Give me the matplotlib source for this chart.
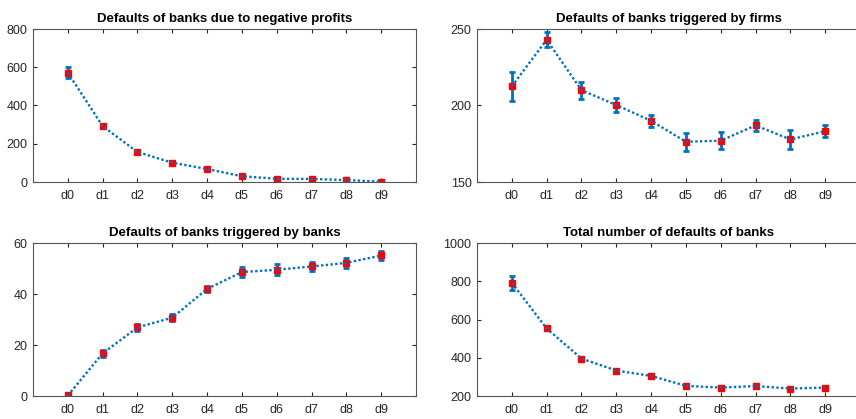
import numpy as np
import matplotlib.pyplot as plt

plt.rcParams['font.family'] = ['Liberation Sans', 'DejaVu Sans']

# 数据
labels = ['d0', 'd1', 'd2', 'd3', 'd4', 'd5', 'd6', 'd7', 'd8', 'd9']

profit_mean = [572, 292, 157, 101, 68, 30, 17, 16, 10, 2]
profit_err = [28, 9, 7, 5, 4, 3, 2, 2, 2, 1]

firms_mean = [212.5, 243, 210, 200.3, 190, 176.3, 177, 187, 177.8, 183.2]
firms_err = [9.5, 5, 5.5, 4.5, 4, 6, 5.5, 3.4, 6, 4]

banks_mean = [0.2, 16.7, 26.9, 30.7, 42, 48.6, 49.5, 50.8, 52.2, 55.1]
banks_err = [0.1, 1.3, 1.3, 1.3, 1.2, 1.8, 2.2, 1.7, 1.9, 1.8]

total_mean = [792, 553, 396, 333, 305, 253, 244, 252, 239, 244]
total_err = [36, 10, 8, 6, 5, 4, 4, 4, 4, 3]

panels = [
    ("Defaults of banks due to negative profits", profit_mean, profit_err, (0, 800), [0, 200, 400, 600, 800]),
    ("Defaults of banks triggered by firms", firms_mean, firms_err, (150, 250), [150, 200, 250]),
    ("Defaults of banks triggered by banks", banks_mean, banks_err, (0, 60), [0, 20, 40, 60]),
    ("Total number of defaults of banks", total_mean, total_err, (200, 1000), [200, 400, 600, 800, 1000]),
]

W, H = 856, 419
boxes = [(33, 29), (477, 29), (33, 243), (477, 243)]
aw, ah = 383, 153

fig = plt.figure(figsize=(W / 100, H / 100), dpi=100)
blue = '#0072BD'
grey = '#262626'
x = np.arange(len(labels))

for (title, mean, err, ylim, yticks), (left, top) in zip(panels, boxes):
    ax = fig.add_axes([left / W, 1 - (top + ah) / H, aw / W, ah / H])
    ax.errorbar(x, mean, yerr=err, color=blue, linestyle=(0, (1, 1)), linewidth=1.7,
                elinewidth=2, capsize=2.5, capthick=2)
    ax.plot(x, mean, 's', color='red', markersize=4.5)
    ax.set_xlim(-1, 10)
    ax.set_ylim(*ylim)
    ax.set_yticks(yticks)
    ax.set_xticks(x)
    ax.set_xticklabels(labels)
    ax.tick_params(direction='in', top=True, right=True, length=3,
                   labelsize=9, colors=grey, width=0.8)
    ax.tick_params(axis='x', pad=6)
    ax.tick_params(axis='y', pad=4)
    for s in ax.spines.values():
        s.set_color('#555555')
        s.set_linewidth(0.8)
    ax.set_title(title, fontsize=9.5, fontweight='bold', pad=5)

plt.savefig("out.png", dpi=100)
